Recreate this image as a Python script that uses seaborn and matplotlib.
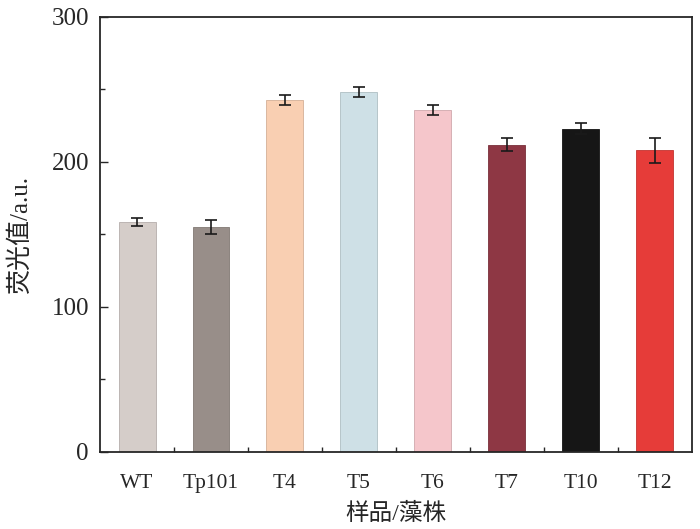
import numpy as np
import pandas as pd
import matplotlib
matplotlib.use("Agg")
import matplotlib.pyplot as plt
import seaborn as sns
from matplotlib.ticker import MultipleLocator, FixedLocator

# Data
strains = ["WT", "Tp101", "T4", "T5", "T6", "T7", "T10", "T12"]
fluorescence = [158.5, 155, 243, 248, 236, 212, 223, 208]
errors = [3.0, 5.0, 3.5, 3.5, 3.6, 4.6, 4.0, 8.5]
bar_colors = ["#D5CDC9", "#988E89", "#F9CFB2", "#CEE0E6", "#F5C6CB",
              "#8E3744", "#161616", "#E63C39"]

sns.set_style("ticks")
plt.rcParams['font.family'] = ['Liberation Serif', 'Noto Sans CJK SC']

df = pd.DataFrame({'strain': strains, 'value': fluorescence})

fig = plt.figure(figsize=(7, 5.29), dpi=100)
ax = fig.add_axes([0.143, 0.1456, 0.845, 0.8224])

sns.barplot(data=df, x='strain', y='value', hue='strain', palette=bar_colors,
            order=strains, hue_order=strains, legend=False, errorbar=None,
            width=0.5, saturation=1, ax=ax)
for patch in ax.patches:
    fc = patch.get_facecolor()
    patch.set_edgecolor(tuple(c * 0.85 for c in fc[:3]) + (1,))
    patch.set_linewidth(0.6)

ax.errorbar(np.arange(len(strains)), fluorescence, yerr=errors, fmt='none',
            ecolor='#1a1a1a', elinewidth=1.2, capsize=4, capthick=1.2)

ax.set_xlim(-0.5, 7.5)
ax.set_ylim(0, 300)
ax.yaxis.set_major_locator(MultipleLocator(100))
ax.yaxis.set_minor_locator(MultipleLocator(50))
ax.xaxis.set_minor_locator(FixedLocator(np.arange(0.5, 7.5, 1)))

ax.tick_params(axis='y', which='major', direction='in', length=6, width=1,
               labelsize=18, pad=8)
ax.tick_params(axis='y', which='minor', direction='in', length=3.5, width=1)
ax.tick_params(axis='x', which='major', length=0, labelsize=15.5, pad=16)
ax.tick_params(axis='x', which='minor', direction='in', length=3.5, width=1)

for side in ['left', 'bottom', 'top', 'right']:
    ax.spines[side].set_visible(True)
    ax.spines[side].set_linewidth(1.3)

ax.set_xlabel('样品/藻株', fontsize=17, labelpad=7)
ax.set_ylabel('荧光值/a.u.', fontsize=18, labelpad=14)

fig.savefig('out.png', dpi=100)
